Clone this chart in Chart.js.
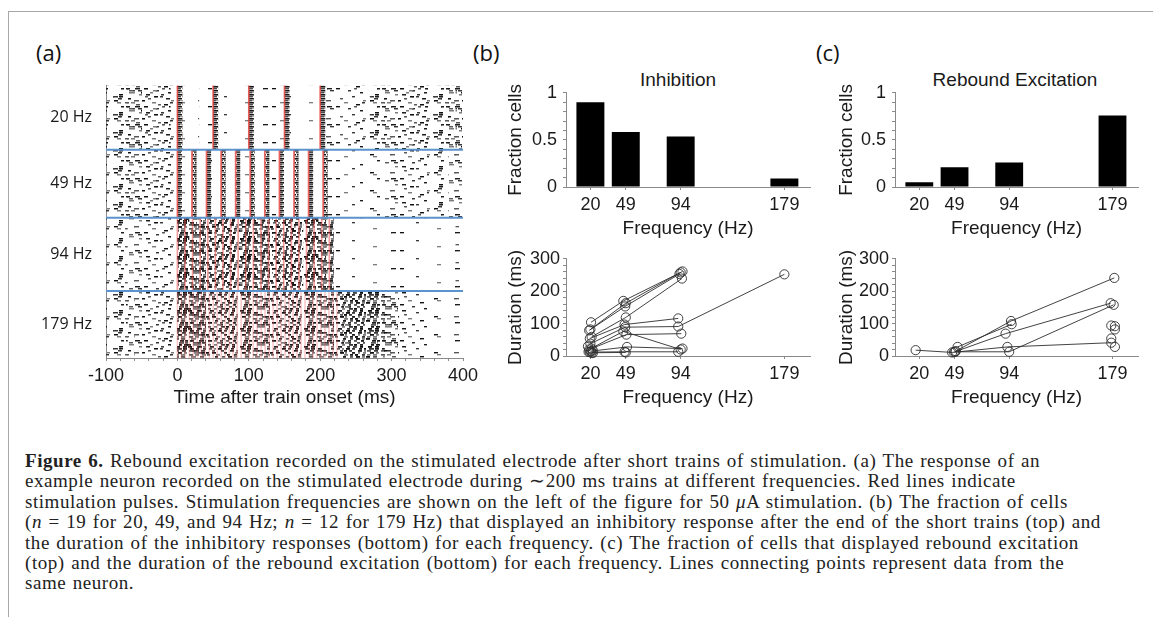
<!DOCTYPE html>
<html>
<head>
<meta charset="utf-8">
<script src="https://cdn.jsdelivr.net/npm/chart.js@4.4.1/dist/chart.umd.min.js"></script>
<style>
html,body{margin:0;padding:0;background:#fff;}
#page{position:relative;width:1153px;height:617px;overflow:hidden;background:#fff;}
#frame{position:absolute;left:8px;top:11px;width:1160px;height:620px;border-top:1px solid #a8a8a8;border-left:1px solid #a8a8a8;}
.plabel{position:absolute;font-family:"Open Sans",sans-serif;font-size:22px;color:#111;transform:translateY(-50%);line-height:1;}
.ctitle{position:absolute;font-family:"Liberation Sans",Arial,sans-serif;font-size:19px;color:#1a1a1a;transform:translate(-50%,-50%);white-space:nowrap;line-height:1;}
canvas{position:absolute;}
#caption{position:absolute;left:25px;top:451px;font-family:"Liberation Serif","Times New Roman",serif;font-size:19px;letter-spacing:0.55px;word-spacing:1.2px;line-height:20.4px;color:#222;white-space:nowrap;}
</style>
</head>
<body>
<div id="page">
  <div id="frame"></div>
  <div class="plabel" style="left:36px;top:52px;">(a)</div>
  <div class="plabel" style="left:473px;top:52px;">(b)</div>
  <div class="plabel" style="left:816px;top:52px;">(c)</div>
  <div class="ctitle" style="left:678px;top:79px;">Inhibition</div>
  <div class="ctitle" style="left:1015px;top:79px;">Rebound Excitation</div>

  <canvas id="cA" width="469" height="339" style="left:14px;top:70px;"></canvas>
  <canvas id="cB1" width="320" height="164" style="left:500px;top:76px;"></canvas>
  <canvas id="cB2" width="320" height="164" style="left:500px;top:245px;"></canvas>
  <canvas id="cC1" width="318" height="164" style="left:830px;top:76px;"></canvas>
  <canvas id="cC2" width="318" height="164" style="left:830px;top:245px;"></canvas>

  <div id="caption"><b>Figure 6.</b> Rebound excitation recorded on the stimulated electrode after short trains of stimulation. (a) The response of an<br>
example neuron recorded on the stimulated electrode during ∼200 ms trains at different frequencies. Red lines indicate<br>
stimulation pulses. Stimulation frequencies are shown on the left of the figure for 50 <i>μ</i>A stimulation. (b) The fraction of cells<br>
(<i>n</i> = 19 for 20, 49, and 94 Hz; <i>n</i> = 12 for 179 Hz) that displayed an inhibitory response after the end of the short trains (top) and<br>
the duration of the inhibitory responses (bottom) for each frequency. (c) The fraction of cells that displayed rebound excitation<br>
(top) and the duration of the rebound excitation (bottom) for each frequency. Lines connecting points represent data from the<br>
same neuron.</div>
</div>

<script>
// ---------------- DATA: panel (a) raster ----------------
const blockLabels = ['20 Hz', '49 Hz', '94 Hz', '179 Hz'];
const blockEdges = [0, 65, 134, 208, 276];           // trial rows (top to bottom)
const timeTicks = [-100,-80,-60,-40,-20,0,20,40,60,80,100,120,140,160,180,200,220,240,260,280,300,320,340,360,380,400];
const timeLabels = [-100, 0, 100, 200, 300, 400];
// 10 ms bin centres
const timeBins = [-95,-85,-75,-65,-55,-45,-35,-25,-15,-5,5,15,25,35,45,55,65,75,85,95,105,115,125,135,145,155,165,175,185,195,205,215,225,235,245,255,265,275,285,295,305,315,325,335,345,355,365,375,385,395];
// stimulation pulse times (ms)
const pulses20 = [0, 50, 100, 150, 200];
const pulses49 = [0, 20.4, 40.8, 61.2, 81.6, 102.0, 122.4, 142.9, 163.3, 183.7, 204.1];
const pulses94 = [0, 10.6, 21.3, 31.9, 42.6, 53.2, 63.8, 74.5, 85.1, 95.7, 106.4, 117.0, 127.7, 138.3, 148.9, 159.6, 170.2, 180.9, 191.5, 202.1, 212.8];
const pulses179 = [0, 5.6, 11.2, 16.8, 22.3, 27.9, 33.5, 39.1, 44.7, 50.3, 55.9, 61.5, 67.0, 72.6, 78.2, 83.8, 89.4, 95.0, 100.6, 106.1, 111.7, 117.3, 122.9, 128.5, 134.1, 139.7, 145.3, 150.8, 156.4, 162.0, 167.6, 173.2, 178.8, 184.4, 189.9, 195.5, 201.1, 206.7, 212.3, 217.9, 223.5];
// spike density per 10 ms bin (fraction of raster filled)
const dens20 = [0.4,0.45,0.4,0.45,0.4,0.45,0.4,0.38,0.4,0.36,
  0.05,0.04,0.06,0.03,0.05,0.04,0.05,0.06,0.03,0.05,
  0.06,0.04,0.05,0.03,0.06,0.04,0.05,0.04,0.03,0.05,
  0.06,0.1,0.12,0.15,0.2,0.26,0.3,0.35,0.35,0.4,
  0.36,0.4,0.42,0.4,0.42,0.4,0.44,0.42,0.4,0.44];
const dens49 = [0.36,0.4,0.36,0.4,0.36,0.36,0.4,0.36,0.32,0.36,
  0.03,0.02,0.03,0.02,0.03,0.02,0.03,0.02,0.03,0.02,
  0.03,0.02,0.03,0.02,0.03,0.02,0.03,0.02,0.03,0.02,
  0.03,0.04,0.05,0.06,0.08,0.1,0.12,0.12,0.15,0.18,
  0.2,0.2,0.24,0.24,0.22,0.24,0.28,0.24,0.28,0.26];
const dens94 = [0.26,0.24,0.28,0.26,0.26,0.24,0.26,0.28,0.26,0.3,
  0.8,0.75,0.75,0.7,0.75,0.7,0.75,0.7,0.7,0.75,
  0.7,0.7,0.75,0.7,0.7,0.75,0.7,0.7,0.75,0.7,
  0.75,0.3,0.05,0.04,0.05,0.04,0.05,0.04,0.05,0.05,
  0.04,0.06,0.05,0.04,0.06,0.05,0.04,0.06,0.05,0.06];
const dens179 = [0.32,0.36,0.36,0.32,0.36,0.36,0.32,0.36,0.4,0.45,
  1.0,0.95,0.95,0.9,0.85,0.8,0.8,0.75,0.75,0.8,
  0.75,0.75,0.7,0.75,0.75,0.7,0.75,0.75,0.8,0.75,
  0.8,0.75,0.8,1.0,1.0,1.0,0.95,0.9,0.75,0.55,
  0.4,0.3,0.2,0.15,0.12,0.1,0.1,0.08,0.1,0.08];
const responseLatency = 3.5; // ms after each pulse where the evoked column sits

// ---------------- DATA: panels (b) and (c) ----------------
const freqTicks = [20, 49, 94, 179];
const inhibFraction = [0.90, 0.585, 0.535, 0.09];
const reboundFraction = [0.05, 0.21, 0.26, 0.76];
const fracTicks = [0,0.1,0.2,0.3,0.4,0.5,0.6,0.7,0.8,0.9,1];
const fracLabels = [0, 0.5, 1];
const durTicks = [0,20,40,60,80,100,120,140,160,180,200,220,240,260,280,300];
const durLabels = [0, 100, 200, 300];
// each neuron: [frequency, duration ms] points
const inhibNeurons = [
  [[20.5,104],[47,170],[94,258]],
  [[20,82],[49,163],[95.5,261]],
  [[19,79],[48.5,153],[93,253]],
  [[21,59],[49,119],[95,239]],
  [[19.5,54],[48,97],[92,116]],
  [[20,38],[48.5,89],[92,91],[179,252]],
  [[21,23],[49.5,66],[94.5,69]],
  [[19,20],[47,76],[94,20]],
  [[20.5,15],[50,28],[95.5,23]],
  [[19.5,12],[48,13],[92,13]],
  [[21,10],[49,11]]
];
const inhibSingles = [[18,30],[22,17],[18.5,13],[22,9]];
const reboundNeurons = [
  [[17,18],[47,11],[92.5,28],[178,41]],
  [[50,15],[95.5,108],[180.5,241]],
  [[51.5,28],[96,98]],
  [[48.5,12],[91,69],[177.5,163]],
  [[49.5,13],[94,13],[180,158]]
];
const reboundSingles = [[178,94],[181,92],[181,82],[178,54],[181,28]];

// ---------------- styles ----------------
Chart.defaults.font.family = '"Liberation Sans", Arial, sans-serif';
Chart.defaults.color = '#1a1a1a';
const AXIS = '#8a8a8a';
const INK = '#2e2e2e';

// raster texture tile (style): [x, y, length] in a 32x18 cell, repeated twice (shifted) in a 64x18 tile
const dashTile = [[2,0,4],[18,8,3],[10,14,4],[26,4,3],[6,10,3],[22,16,4],[14,2,3],[29,12,3],[4,6,4],
  [20,0,3],[12,8,4],[28,14,3],[8,4,3],[24,10,4],[16,16,3],[0,12,3],[19,6,3],[11,2,4],
  [27,0,3],[3,8,3],[21,14,3],[15,4,4],[30,10,2],[9,16,3],[23,2,3],[6,12,4],[13,6,3],
  [8,0,3],[25,8,3],[1,14,3],[20,4,3],[15,10,3],[28,16,3],[18,12,3],[29,2,2],[26,6,3],
  [14,0,3],[8,8,2],[16,14,3],[2,4,3],[10,10,3],[3,16,3],[24,12,2],[7,2,3],[21,6,2],
  [30,8,2],[5,0,2],[11,12,2]];
const dashShades = ['#101010', '#383838', '#7c7c7c', '#1c1c1c', '#585858'];
const patternCache = {};
function densityPattern(d) {
  const n = Math.max(0, Math.min(dashTile.length, Math.round(d * dashTile.length)));
  if (patternCache[n]) return patternCache[n];
  const h = 1.3 + 0.5 * n / dashTile.length;
  const c = document.createElement('canvas'); c.width = 64; c.height = 18;
  const g = c.getContext('2d');
  for (let i = 0; i < n; i++) {
    const [x, y, l] = dashTile[i];
    g.fillStyle = dashShades[i % 5];
    g.fillRect(x, y, l, h);
    const [x2, y2, l2] = dashTile[(i * 7 + 3) % dashTile.length];
    g.fillStyle = dashShades[(i + 2) % 5];
    g.fillRect(32 + ((x2 + 13) % 32), (y2 + 10) % 18, l2 + 1, h);
  }
  patternCache[n] = g.createPattern(c, 'repeat');
  return patternCache[n];
}
const evokedPattern = (() => {
  const c = document.createElement('canvas'); c.width = 6; c.height = 8;
  const g = c.getContext('2d');
  g.fillStyle = '#141414'; g.fillRect(0, 0, 6, 1.6); g.fillRect(1, 4, 5, 1.5);
  g.fillStyle = '#4a4a4a'; g.fillRect(0, 2, 5, 1.4); g.fillRect(0, 6, 4, 1.4);
  g.fillStyle = '#9a9a9a'; g.fillRect(4, 6, 2, 1.2);
  return g.createPattern(c, 'repeat');
})();

// ---------------- panel (a) ----------------
const blockRange = b => [blockEdges[b], blockEdges[b + 1]];
const blockCenters = blockLabels.map((_, b) => (blockEdges[b] + blockEdges[b + 1]) / 2);
const rasterDatasets = [];
[dens20, dens49, dens94, dens179].forEach((dens, b) => {
  rasterDatasets.push({
    type: 'bar', xAxisID: 'xb', yAxisID: 'y', grouped: false, order: 5,
    data: timeBins.map((t, i) => ({ x: t, y: blockRange(b), d: dens[i] })),
    backgroundColor: ctx => densityPattern(ctx.raw ? ctx.raw.d : 0),
    borderWidth: 0, barPercentage: 1, categoryPercentage: 1
  });
});
[[pulses20, 0, 4.5, evokedPattern], [pulses49, 1, 3.5, evokedPattern], [pulses94, 2, 3, densityPattern(1)]].forEach(([p, b, w, fill]) => {
  rasterDatasets.push({
    type: 'bar', xAxisID: 'x', yAxisID: 'y', grouped: false, order: 4, barThickness: w,
    data: p.map(t => ({ x: t + responseLatency, y: blockRange(b) })),
    backgroundColor: fill, borderWidth: 0
  });
});
[[pulses20, 'rgba(232,62,58,0.8)'], [pulses49, 'rgba(232,62,58,0.8)'],
 [pulses94, 'rgba(232,62,58,0.5)'], [pulses179, 'rgba(235,80,80,0.3)']].forEach(([p, col], b) => {
  rasterDatasets.push({
    type: 'bar', xAxisID: 'x', yAxisID: 'y', grouped: false, order: 3, barThickness: 1,
    data: p.map(t => ({ x: t, y: blockRange(b) })),
    backgroundColor: col, borderWidth: 0
  });
});
blockEdges.slice(1, 4).forEach(e => {
  rasterDatasets.push({
    type: 'line', xAxisID: 'x', yAxisID: 'y', order: 1,
    data: [{ x: -100, y: e }, { x: 400, y: e }],
    borderColor: '#5b93cc', borderWidth: 2, pointRadius: 0
  });
});

new Chart(document.getElementById('cA'), {
  type: 'bar',
  data: { datasets: rasterDatasets },
  options: {
    responsive: false, animation: false, events: [],
    layout: { padding: { left: 0, top: 12, right: 20, bottom: 0 } },
    plugins: { legend: { display: false }, tooltip: { enabled: false } },
    scales: {
      x: {
        type: 'linear', axis: 'x', position: 'bottom', min: -100, max: 400, offset: false,
        afterBuildTicks: ax => { ax.ticks = timeTicks.map(v => ({ value: v })); },
        ticks: { autoSkip: false, maxRotation: 0, font: { size: 18 }, padding: 4,
          callback: v => timeLabels.includes(v) ? String(v) : '' },
        grid: { drawOnChartArea: false, tickLength: 3, color: AXIS, offset: false },
        border: { display: true, color: AXIS },
        title: { display: true, text: 'Time after train onset (ms)', font: { size: 19 }, padding: 0 },
        afterFit: ax => { ax.height = 51; }
      },
      xb: { type: 'linear', axis: 'x', min: -100, max: 400, offset: false, display: false, grid: { offset: false } },
      y: {
        type: 'linear', position: 'left', min: 0, max: 276, reverse: true,
        afterBuildTicks: ax => { ax.ticks = blockCenters.map(v => ({ value: v })); },
        ticks: { autoSkip: false, font: { family: '"Open Sans", sans-serif', size: 16 }, padding: 6,
          callback: (v, i) => blockLabels[i] },
        grid: { display: false },
        border: { display: true, color: AXIS },
        afterFit: ax => { ax.width = 92; }
      }
    }
  }
});

// ---------------- panels (b) and (c) ----------------
function freqAxis() {
  return {
    type: 'linear', position: 'bottom', min: 0, max: 200, offset: false,
    afterBuildTicks: ax => { ax.ticks = freqTicks.map(v => ({ value: v })); },
    ticks: { autoSkip: false, maxRotation: 0, font: { size: 18 }, padding: 4, callback: v => String(v) },
    grid: { drawOnChartArea: false, tickLength: 3, color: AXIS, offset: false },
    border: { display: true, color: AXIS },
    title: { display: true, text: 'Frequency (Hz)', font: { size: 19 }, padding: 0 },
    afterFit: ax => { ax.height = 53; }
  };
}
function valueAxis(max, tickList, labelList, title, width, pad) {
  return {
    type: 'linear', position: 'left', min: 0, max: max,
    afterBuildTicks: ax => { ax.ticks = tickList.map(v => ({ value: v })); },
    ticks: { autoSkip: false, font: { size: 18 }, padding: pad,
      callback: v => labelList.includes(v) ? String(v) : '' },
    grid: { drawOnChartArea: false, tickLength: 3, color: AXIS },
    border: { display: true, color: AXIS },
    title: { display: true, text: title, font: { size: 19 }, padding: 0 },
    afterFit: ax => { ax.width = width; }
  };
}
function barChart(id, values, yWidth, padLeft) {
  new Chart(document.getElementById(id), {
    type: 'bar',
    data: { datasets: [{
      data: freqTicks.map((f, i) => ({ x: f, y: values[i] })),
      backgroundColor: '#000', borderWidth: 0, barPercentage: 0.79, categoryPercentage: 1
    }] },
    options: {
      responsive: false, animation: false, events: [],
      layout: { padding: { left: padLeft, top: 12, right: 10, bottom: 0 } },
      plugins: { legend: { display: false }, tooltip: { enabled: false } },
      scales: { x: freqAxis(), y: valueAxis(1, fracTicks, fracLabels, 'Fraction cells', yWidth, 6) }
    }
  });
}
function durationChart(id, neurons, singles, yWidth, padLeft) {
  const pointStyle = {
    pointRadius: 4.6, pointHoverRadius: 4.6, pointBorderColor: INK, pointBorderWidth: 0.9,
    pointBackgroundColor: 'rgba(0,0,0,0)', borderColor: INK, borderWidth: 0.9, clip: false
  };
  const ds = neurons.map(n => Object.assign({
    data: n.map(([f, v]) => ({ x: f, y: v })), showLine: true
  }, pointStyle));
  ds.push(Object.assign({ data: singles.map(([f, v]) => ({ x: f, y: v })), showLine: false }, pointStyle));
  new Chart(document.getElementById(id), {
    type: 'scatter',
    data: { datasets: ds },
    options: {
      responsive: false, animation: false, events: [],
      layout: { padding: { left: padLeft, top: 12, right: 10, bottom: 0 } },
      plugins: { legend: { display: false }, tooltip: { enabled: false } },
      scales: { x: freqAxis(), y: valueAxis(300, durTicks, durLabels, 'Duration (ms)', yWidth, 3) }
    }
  });
}
barChart('cB1', inhibFraction, 62, 4);
durationChart('cB2', inhibNeurons, inhibSingles, 62, 4);
barChart('cC1', reboundFraction, 60, 5);
durationChart('cC2', reboundNeurons, reboundSingles, 60, 5);
</script>
</body>
</html>
